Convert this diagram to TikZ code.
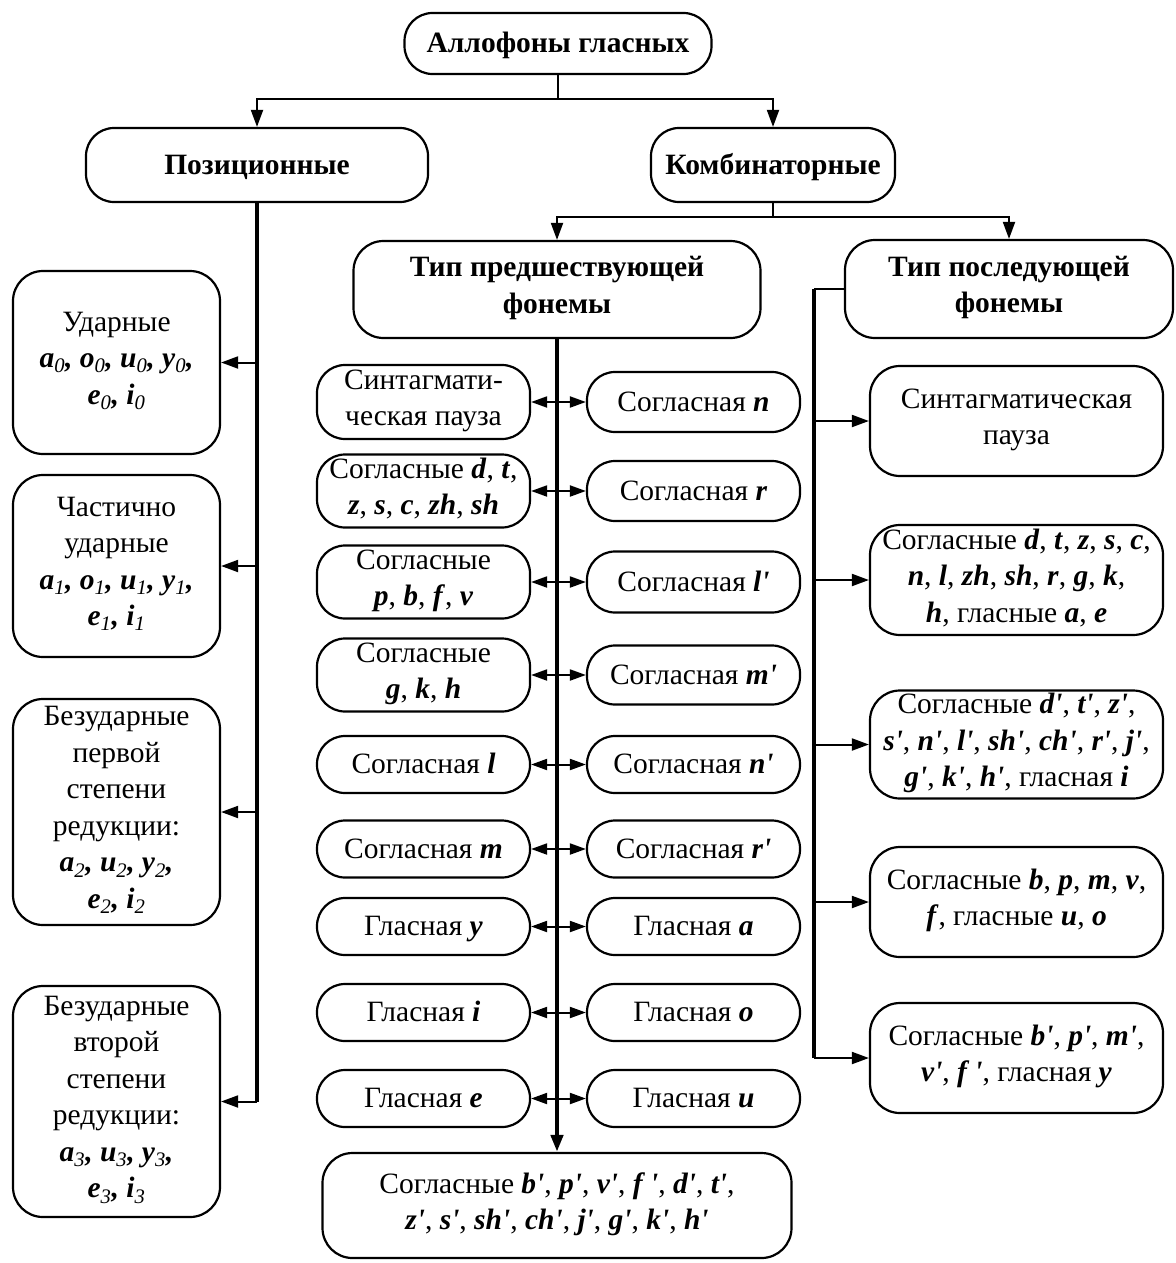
\documentclass[tikz,border=0pt]{standalone}
\usepackage{fontspec}
\setmainfont{Liberation Serif}
\usetikzlibrary{arrows.meta}
\newcommand\bim[1]{\textbf{\textit{#1}}}
\newcommand\pr{\textquotesingle}
\newcommand\subn[1]{\textsubscript{\mdseries\itshape #1}}
\newcommand\bstrut{\rule[-9pt]{0pt}{36.5pt}}
\begin{document}
\begin{tikzpicture}[x=1pt,y=-1pt,
  box/.style={draw, line width=2.2pt, rounded corners=28pt, align=center, inner sep=0pt,
    font=\fontsize{29.5}{36.5}\selectfont,
    execute at begin node=\bstrut, execute at end node=\bstrut},
  hd/.style={box, font=\fontsize{29.5}{36.5}\selectfont\bfseries},
  bigbox/.style={box, rounded corners=30pt},
  ln/.style={line width=2pt},
  thk/.style={line width=4pt},
  tip/.tip={Triangle[length=17pt,width=12pt]},
  stip/.tip={Triangle[length=16pt,width=11pt]},
  arr/.style={ln, -{tip}},
  biarr/.style={ln, {stip}-{stip}}
]
\useasboundingbox (0,0) rectangle (1175,1263);

% top level
\node[hd, minimum width=307pt, minimum height=61pt] (top) at (558,43.5) {Аллофоны гласных};
\node[hd, minimum width=342pt, minimum height=74pt] (pos) at (257,165) {Позиционные};
\node[hd, minimum width=244pt, minimum height=74pt] (komb) at (773,165) {Комбинаторные};
\node[hd, minimum width=407pt, minimum height=97pt, rounded corners=30pt] (pred) at (557,289.5) {Тип предшествующей\\фонемы};
\node[hd, minimum width=328pt, minimum height=98pt, rounded corners=30pt] (posl) at (1009,289) {Тип последующей\\фонемы};

% left column
\node[bigbox, minimum width=207pt, minimum height=183pt] (l1) at (116.5,362.5)
  {Ударные\\ \bim{a\subn{0}, o\subn{0}, u\subn{0}, y\subn{0},}\\ \bim{e\subn{0}, i\subn{0}}};
\node[bigbox, minimum width=207pt, minimum height=182pt] (l2) at (116.5,566)
  {Частично\\ударные\\ \bim{a\subn{1}, o\subn{1}, u\subn{1}, y\subn{1},}\\ \bim{e\subn{1}, i\subn{1}}};
\node[bigbox, minimum width=207pt, minimum height=226pt] (l3) at (116.5,812)
  {Безударные\\первой\\степени\\редукции:\\ \bim{a\subn{2}, u\subn{2}, y\subn{2},}\\ \bim{e\subn{2}, i\subn{2}}};
\node[bigbox, minimum width=207pt, minimum height=231pt] (l4) at (116.5,1101.5)
  {Безударные\\второй\\степени\\редукции:\\ \bim{a\subn{3}, u\subn{3}, y\subn{3},}\\ \bim{e\subn{3}, i\subn{3}}};

% middle column, left
\node[box, minimum width=213pt, minimum height=74pt] (ml1) at (423.5,402) {Синтагмати-\\ческая пауза};
\node[box, minimum width=213pt, minimum height=73pt] (ml2) at (423.5,491) {Согласные \bim{d}, \bim{t},\\ \bim{z}, \bim{s}, \bim{c}, \bim{zh}, \bim{sh}};
\node[box, minimum width=213pt, minimum height=73pt] (ml3) at (423.5,582) {Согласные\\ \bim{p}, \bim{b}, \bim{f}, \bim{v}};
\node[box, minimum width=213pt, minimum height=73pt] (ml4) at (423.5,675) {Согласные\\ \bim{g}, \bim{k}, \bim{h}};
\node[box, minimum width=213pt, minimum height=57pt] (ml5) at (423.5,764.5) {Согласная \bim{l}};
\node[box, minimum width=213pt, minimum height=57pt] (ml6) at (423.5,849) {Согласная \bim{m}};
\node[box, minimum width=213pt, minimum height=57pt] (ml7) at (423.5,926.5) {Гласная \bim{y}};
\node[box, minimum width=213pt, minimum height=57pt] (ml8) at (423.5,1012.5) {Гласная \bim{i}};
\node[box, minimum width=213pt, minimum height=57pt] (ml9) at (423.5,1098.5) {Гласная \bim{e}};

% middle column, right
\node[box, minimum width=213pt, minimum height=60pt] (mr1) at (693.5,402) {Согласная \bim{n}};
\node[box, minimum width=213pt, minimum height=60pt] (mr2) at (693.5,491) {Согласная \bim{r}};
\node[box, minimum width=213pt, minimum height=61pt] (mr3) at (693.5,582) {Согласная \bim{l\pr}};
\node[box, minimum width=213pt, minimum height=59pt] (mr4) at (693.5,675) {Согласная \bim{m\pr}};
\node[box, minimum width=213pt, minimum height=57pt] (mr5) at (693.5,764.5) {Согласная \bim{n\pr}};
\node[box, minimum width=213pt, minimum height=57pt] (mr6) at (693.5,849) {Согласная \bim{r\pr}};
\node[box, minimum width=213pt, minimum height=57pt] (mr7) at (693.5,926.5) {Гласная \bim{a}};
\node[box, minimum width=213pt, minimum height=57pt] (mr8) at (693.5,1012.5) {Гласная \bim{o}};
\node[box, minimum width=213pt, minimum height=57pt] (mr9) at (693.5,1098.5) {Гласная \bim{u}};

% bottom
\node[box, minimum width=469pt, minimum height=105pt, rounded corners=30pt] (bot) at (557,1205.5)
  {Согласные \bim{b\pr}, \bim{p\pr}, \bim{v\pr}, \bim{f \pr}, \bim{d\pr}, \bim{t\pr},\\
   \bim{z\pr}, \bim{s\pr}, \bim{sh\pr}, \bim{ch\pr}, \bim{j\pr}, \bim{g\pr}, \bim{k\pr}, \bim{h\pr}};

% right column
\node[bigbox, minimum width=293pt, minimum height=110pt] (r1) at (1016.5,421) {Синтагматическая\\пауза};
\node[bigbox, minimum width=293pt, minimum height=110pt] (r2) at (1016.5,580)
  {Согласные \bim{d}, \bim{t}, \bim{z}, \bim{s}, \bim{c},\\ \bim{n}, \bim{l}, \bim{zh}, \bim{sh}, \bim{r}, \bim{g}, \bim{k},\\ \bim{h}, гласные \bim{a}, \bim{e}};
\node[bigbox, minimum width=293pt, minimum height=108pt] (r3) at (1016.5,744.5)
  {Согласные \bim{d\pr}, \bim{t\pr}, \bim{z\pr},\\ \bim{s\pr}, \bim{n\pr}, \bim{l\pr}, \bim{sh\pr}, \bim{ch\pr}, \bim{r\pr}, \bim{j\pr},\\ \bim{g\pr}, \bim{k\pr}, \bim{h\pr}, гласная \bim{i}};
\node[bigbox, minimum width=293pt, minimum height=110pt] (r4) at (1016.5,902)
  {Согласные \bim{b}, \bim{p}, \bim{m}, \bim{v},\\ \bim{f}, гласные \bim{u}, \bim{o}};
\node[bigbox, minimum width=293pt, minimum height=110pt] (r5) at (1016.5,1058)
  {Согласные \bim{b\pr}, \bim{p\pr}, \bim{m\pr},\\ \bim{v\pr}, \bim{f \pr}, гласная \bim{y}};

% connectors: top
\coordinate (j1) at (558,99);
\draw[ln] (top.south) -- (j1);
\draw[arr] (j1) -| (pos.north);
\draw[arr] (j1) -| (komb.north);
\coordinate (j2) at (773,217);
\draw[ln] (komb.south) -- (j2);
\draw[arr] (j2) -| (pred.north);
\draw[arr] (j2) -| (posl.north);

% left spine
\coordinate (lb) at (pos.south |- l4.east);
\draw[thk] (pos.south) -- (lb);
\draw[arr] (pos.south |- l1.east) -- (l1.east);
\draw[arr] (pos.south |- l2.east) -- (l2.east);
\draw[arr] (pos.south |- l3.east) -- (l3.east);
\draw[arr] (lb) -- (l4.east);

% middle spine
\draw[line width=4.5pt, -{tip}] (pred.south) -- (bot.north);
\foreach \i in {1,...,9}{
  \draw[biarr] (ml\i.east) -- (mr\i.west);
}

% right spine
\coordinate (rt) at (814,289);
\draw[ln] (posl.west) -- (rt);
\coordinate (rb) at (rt |- r5.west);
\draw[thk] (rt) -- (rb);
\draw[arr] (rt |- r1.west) -- (r1.west);
\draw[arr] (rt |- r2.west) -- (r2.west);
\draw[arr] (rt |- r3.west) -- (r3.west);
\draw[arr] (rt |- r4.west) -- (r4.west);
\draw[arr] (rb) -- (r5.west);
\end{tikzpicture}
\end{document}
